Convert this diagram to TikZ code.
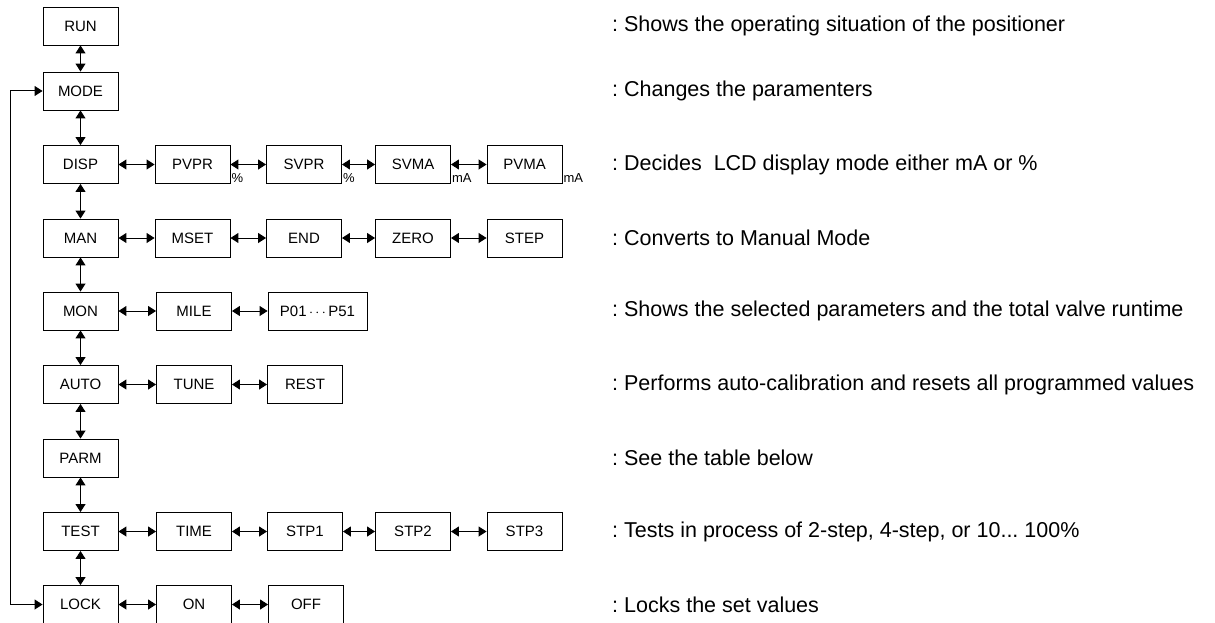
\documentclass[tikz,border=0pt]{standalone}
\usepackage{fontspec}
\setmainfont{Liberation Sans}
\usetikzlibrary{arrows.meta}
\tikzset{
  box/.style={draw, line width=0.9pt, minimum width=75pt, minimum height=38pt, inner sep=0pt, font=\fontsize{15}{17}\selectfont},
  link/.style={line width=1pt, {Triangle[length=8pt,width=10pt]}-{Triangle[length=8pt,width=10pt]}},
  unit/.style={inner sep=1pt, anchor=south west, font=\fontsize{13}{14}\selectfont},
  note/.style={anchor=west, inner sep=0pt, font=\fontsize{21.5}{24}\selectfont}
}
\begin{document}
\frenchspacing
\begin{tikzpicture}[x=1pt, y=-1pt]
    \useasboundingbox (0,0) rectangle (1215,623);
    % main menu column
    \foreach \name/\txt/\y in {run/RUN/26, mode/MODE/91, disp/DISP/164.5, man/MAN/238, mon/MON/311, auto/AUTO/384.5, parm/PARM/458, test/TEST/531.5, lock/LOCK/604.5}
        \node[box] (\name) at (80.5,\y) {\txt};
    \foreach \a/\b in {run/mode, mode/disp, disp/man, man/mon, mon/auto, auto/parm, parm/test, test/lock}
        \draw[link] (\a) -- (\b);
    % sub menus
    \node[box] (pvpr) at (192.5,164.5) {PVPR};
    \node[box] (svpr) at (304,164.5) {SVPR};
    \node[box] (svma) at (413,164.5) {SVMA};
    \node[box] (pvma) at (524.5,164.5) {PVMA};
    \node[unit] (u1) at (pvpr.south east) {\%};
    \node[unit] (u2) at (svpr.south east) {\%};
    \node[unit] (u3) at (svma.south east) {mA};
    \node[unit] (u4) at (pvma.south east) {mA};
    \node[box] (mset) at (192.5,238) {MSET};
    \node[box] (end) at (304,238) {END};
    \node[box] (zero) at (413,238) {ZERO};
    \node[box] (stp) at (524.5,238) {STEP};
    \node[box] (mile) at (194,311) {MILE};
    \node[box, minimum width=99pt] (pnum) at (317.5,311) {P01\,$\cdots$\,P51};
    \node[box] (tune) at (194,384.5) {TUNE};
    \node[box] (rest) at (305,384.5) {REST};
    \node[box] (time) at (194,531.5) {TIME};
    \node[box] (stp1) at (305,531.5) {STP1};
    \node[box] (stp2) at (413,531.5) {STP2};
    \node[box] (stp3) at (524.5,531.5) {STP3};
    \node[box] (on) at (194,604.5) {ON};
    \node[box] (off) at (306,604.5) {OFF};
    \foreach \a/\b in {disp/pvpr, pvpr/svpr, svpr/svma, svma/pvma, man/mset, mset/end, end/zero, zero/stp, mon/mile, mile/pnum, auto/tune, tune/rest, test/time, time/stp1, stp1/stp2, stp2/stp3, lock/on, on/off}
        \draw[link] (\a) -- (\b);
    % return line
    \coordinate (back) at (10,91);
    \draw[link] (mode.west) -- (back) |- (lock.west);
    % descriptions
    \node[note] (n1) at (612,26) {: Shows the operating situation of the positioner};
    \node[note] (n2) at (612,91) {: Changes the paramenters};
    \node[note] (n3) at (612,164.5) {: Decides~ LCD display mode either mA or \%};
    \node[note] (n4) at (612,238) {: Converts to Manual Mode};
    \node[note] (n5) at (612,311) {: Shows the selected parameters and the total valve runtime};
    \node[note] (n6) at (612,384.5) {: Performs auto-calibration and resets all programmed values};
    \node[note] (n7) at (612,458) {: See the table below};
    \node[note] (n8) at (612,531.5) {: Tests in process of 2-step, 4-step, or 10... 100\%};
    \node[note] (n9) at (612,604.5) {: Locks the set values};
\end{tikzpicture}
\end{document}
